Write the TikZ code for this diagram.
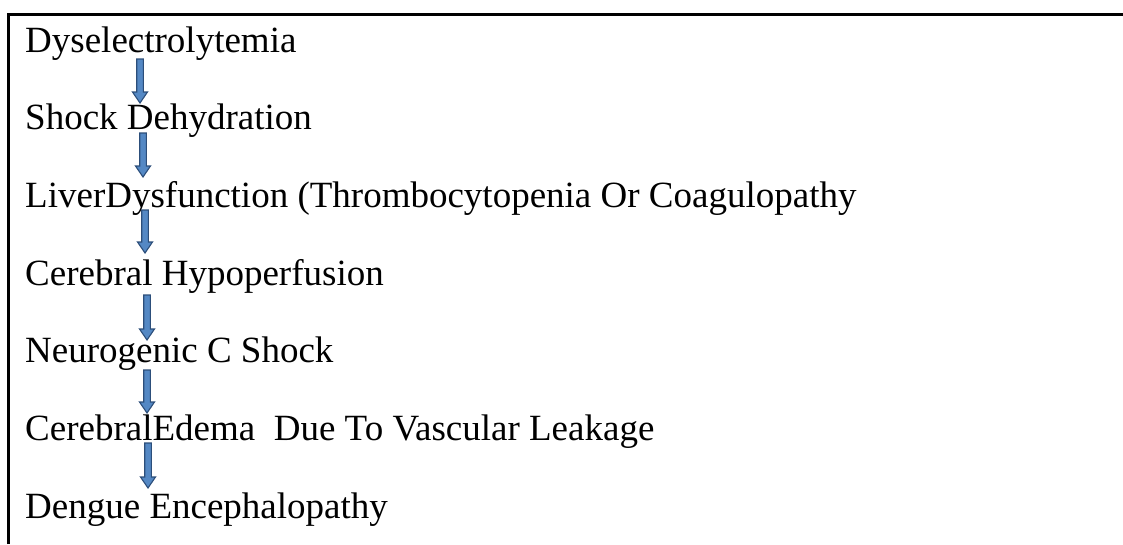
\documentclass[tikz,border=0pt]{standalone}
\usepackage{fontspec}
\setmainfont{Liberation Serif}
\usetikzlibrary{calc}
\definecolor{arrfill}{RGB}{84,136,196}
\definecolor{arrline}{RGB}{44,78,122}

\begin{document}
\begin{tikzpicture}[x=1pt, y=-1pt,
    txt/.style={anchor=base west, inner sep=0pt, font=\fontsize{37}{40}\selectfont},
    barr/.style={draw=arrline, fill=arrfill, line width=1.1pt, line join=miter,
      to path={($(\tikztostart)+(-3.3,0)$) -- ($(\tikztostart)+(3.3,0)$)
        -- ($(\tikztotarget)+(3.3,-11)$) -- ($(\tikztotarget)+(7.5,-11)$)
        -- (\tikztotarget) -- ($(\tikztotarget)+(-7.5,-11)$)
        -- ($(\tikztotarget)+(-3.3,-11)$) -- cycle}}
]
\useasboundingbox (0,0) rectangle (1123,544);
% frame, cut off right and bottom
\draw[line width=3pt] (8,544) -- (8,14) -- (1123,14);

\node[txt] (dys) at (25,52) {Dyselectrolytemia};
\node[txt] (shk) at (25,129.7) {Shock Dehydration};
\node[txt] (liv) at (25,207.3) {LiverDysfunction (Thrombocytopenia Or Coagulopathy};
\node[txt] (hyp) at (25,285) {Cerebral Hypoperfusion};
\node[txt] (neu) at (25,362.7) {Neurogenic C Shock};
\node[txt] (ede) at (25,440.3) {CerebralEdema~~Due To Vascular Leakage};
\node[txt] (enc) at (25,518) {Dengue Encephalopathy};

% block arrows
\coordinate (a1) at (140,59);  \coordinate (b1) at (140,103);
\coordinate (a2) at (143,133); \coordinate (b2) at (143,177);
\coordinate (a3) at (145,210); \coordinate (b3) at (145,253);
\coordinate (a4) at (147,295); \coordinate (b4) at (147,340);
\coordinate (a5) at (147,370); \coordinate (b5) at (147,413);
\coordinate (a6) at (148,443); \coordinate (b6) at (148,488);
\foreach \i in {1,...,6}
  \draw[barr] (a\i) to (b\i);
\end{tikzpicture}
\end{document}
